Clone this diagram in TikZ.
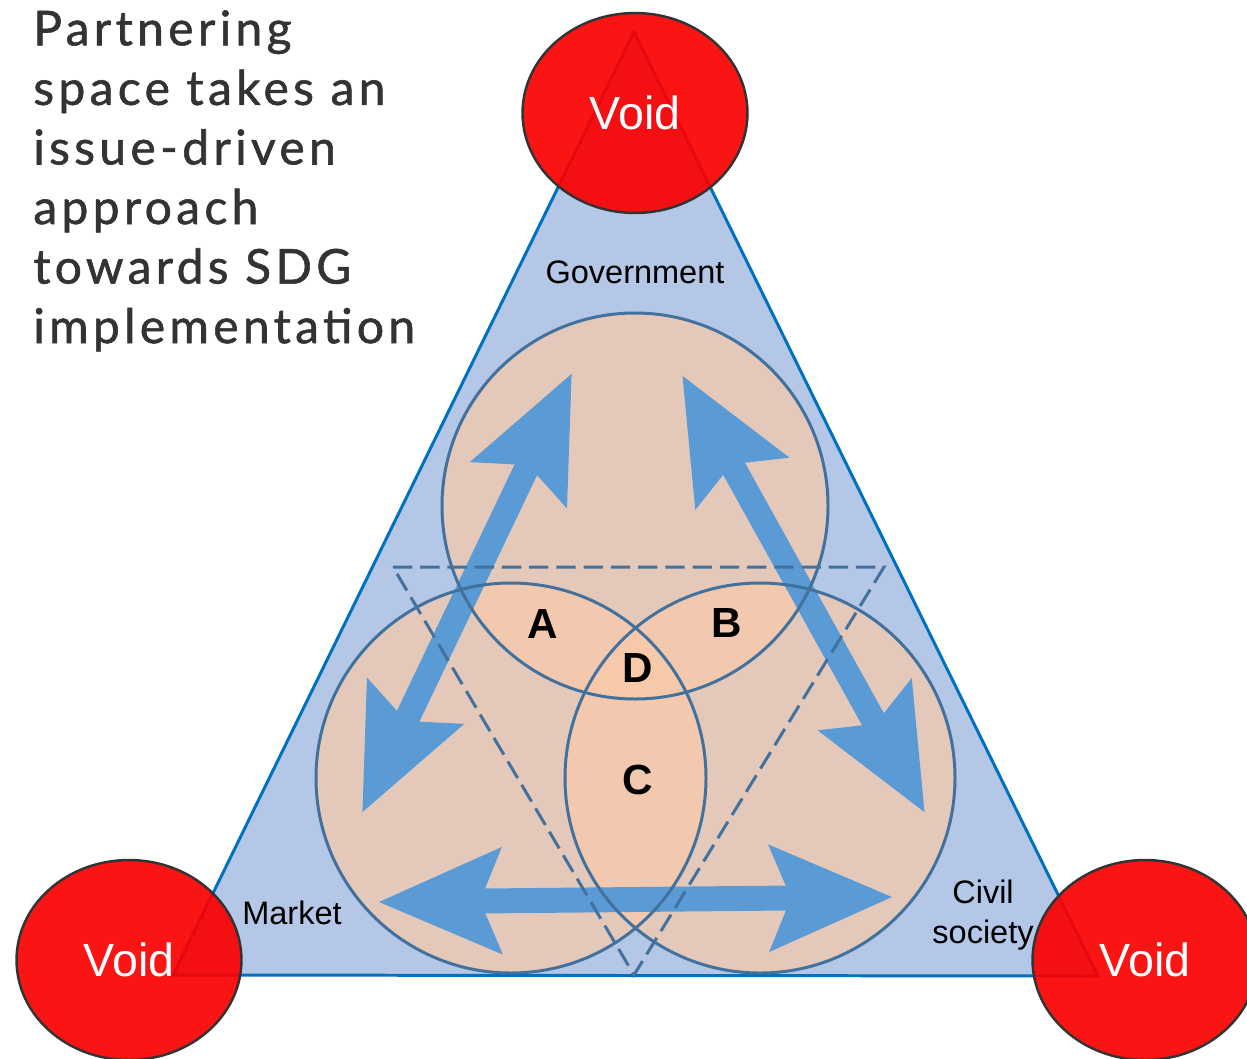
\documentclass[tikz,border=0pt]{standalone}
\usepackage{fontspec}
\setmainfont{Liberation Sans}
\newfontfamily\titlefont[LetterSpace=9, FakeBold=1.2]{Lato}
\usepackage{tikz}
\usetikzlibrary{positioning, arrows.meta, shapes.geometric}

\definecolor{triblue}{HTML}{B4C7E7}
\definecolor{triedge}{HTML}{0070C0}
\definecolor{peach}{RGB}{249,202,169}
\definecolor{ringedge}{HTML}{41719C}
\definecolor{arrowblue}{HTML}{5B9BD5}
\definecolor{voidred}{RGB}{250,0,0}
\definecolor{titlegray}{HTML}{333333}

\tikzset{
  voidnode/.style={ellipse, draw=black!80, line width=1.4pt, fill=voidred, fill opacity=0.92, text opacity=1,
    text=white, minimum width=4.5cm, minimum height=4cm, inner sep=0pt, font=\fontsize{26.5}{30}\selectfont},
  sector/.style={font=\fontsize{18.5}{22.7}\selectfont, inner sep=0pt, align=center},
  zone/.style={font=\bfseries\fontsize{24}{28}\selectfont, inner sep=0pt},
  ringfill/.style={fill=peach, fill opacity=0.7},
  ringline/.style={draw=ringedge, line width=1.7pt},
  bigarrow/.style={draw=arrowblue, line width=14.2pt,
    {Stealth[length=69pt, width=58pt, inset=11pt]}-{Stealth[length=69pt, width=58pt, inset=11pt]}}
}

\begin{document}
\begin{tikzpicture}[x=0.02cm, y=-0.02cm]
    \useasboundingbox (0,0) rectangle (1247,1058);

    % main triangle
    \draw[fill=triblue, draw=triedge, line width=1.7pt, line join=miter] (173,975) -- (634,32) -- (1098,976) -- cycle;

    % centres of the three circles
    \coordinate (cgov) at (635,506);
    \coordinate (cmkt) at (511,778);
    \coordinate (cciv) at (760,778);

    % circle fills
    \fill[ringfill] (cgov) circle (193);
    \fill[ringfill] (cmkt) circle (195);
    \fill[ringfill] (cciv) circle (195);

    % arrow end points
    \coordinate (govL) at (572,373);
    \coordinate (govR) at (682,375);
    \coordinate (mktT) at (362,813);
    \coordinate (civT) at (925,813);
    \coordinate (mktB) at (378,902);
    \coordinate (civB) at (893,897);

    % double arrows
    \draw[bigarrow] (govL) -- (mktT);
    \draw[bigarrow] (govR) -- (civT);
    \draw[bigarrow] (mktB) -- (civB);

    % circle outlines
    \draw[ringline] (cgov) circle (193);
    \draw[ringline] (cmkt) circle (195);
    \draw[ringline] (cciv) circle (195);

    % dashed inner triangle
    \draw[ringedge, line width=1.7pt, dash pattern=on 11pt off 4.5pt] (393,567) -- (884,567) -- (634,975) -- cycle;

    % overlap letters
    \node[zone] (za) at (543,624) {A};
    \node[zone] (zb) at (727,623) {B};
    \node[zone] (zd) at (638,668) {D};
    \node[zone] (zc) at (638,780) {C};

    % sector names
    \node[sector] (govlabel) at (635,272) {Government};
    \node[sector] (mktlabel) at (292,913) {Market};
    \node[sector] (civlabel) at (983,915) {Civil\\society};

    % void ellipses at the corners
    \node[voidnode] (voidtop) at (635,113) {Void};
    \node[voidnode] (voidleft) at (129,960) {Void};
    \node[voidnode] (voidright) at (1145,960) {Void};

    % heading
    \node[anchor=north west, align=left, inner sep=0pt, text=titlegray,
      font=\titlefont\fontsize{27.3}{33.9}\selectfont] (heading) at (33,10)
      {Partnering\\space takes an\\issue-driven\\approach\\towards SDG\\implementation};
\end{tikzpicture}
\end{document}
